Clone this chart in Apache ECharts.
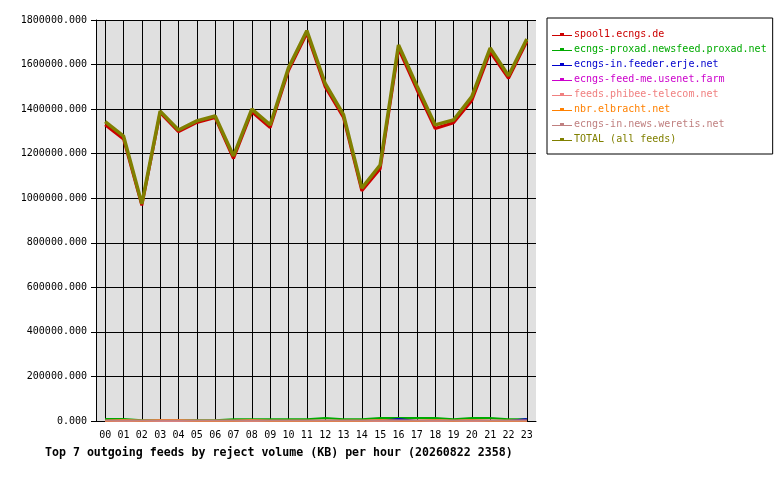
<!DOCTYPE html>
<html><head><meta charset="utf-8">
<script src="https://cdn.jsdelivr.net/npm/echarts@6/dist/echarts.min.js"></script>
<style>html,body{margin:0;padding:0;background:#fff}#c{width:780px;height:480px}</style>
</head><body><div id="c"></div>
<script>
const hours = ['00','01','02','03','04','05','06','07','08','09','10','11','12','13','14','15','16','17','18','19','20','21','22','23'];
const spool1 = [1330000,1266000,968000,1384000,1299000,1340000,1362000,1178000,1388000,1317000,1573000,1740000,1500000,1362000,1033000,1132000,1671000,1488000,1313000,1339000,1439000,1657000,1538000,1703000];
const proxad = [9000,9000,3000,3000,3000,3000,3000,8000,8000,8000,8000,8000,14000,8000,8000,14000,14000,14000,14000,8000,14000,14000,8000,8000];
const erje = [0,0,0,0,0,0,0,0,0,0,0,0,0,0,0,0,9000,0,0,0,0,0,0,9000];
const feedme = [0,0,0,0,0,0,0,0,0,0,0,0,0,0,0,0,0,0,0,0,0,0,0,0];
const phibee = [0,0,0,0,0,0,0,0,0,0,0,0,0,0,0,0,0,0,0,0,0,0,0,0];
const elbracht = [1000,5000,1000,5000,5000,1000,1000,1000,5000,1000,1000,1000,1000,1000,1000,5000,1000,1000,5000,1000,5000,1000,1000,1000];
const weretis = [2000,2000,2000,2000,2000,2000,2000,2000,2000,2000,2000,2000,2000,2000,2000,2000,2000,2000,2000,2000,2000,2000,2000,2000];
const total = [1344000,1279000,975000,1391000,1306000,1347000,1369000,1190000,1400000,1329000,1585000,1752000,1515000,1375000,1045000,1149000,1688000,1505000,1329000,1351000,1456000,1674000,1550000,1715000];
const yTicks = [0,200000,400000,600000,800000,1000000,1200000,1400000,1600000,1800000];

const names = ['spool1.ecngs.de','ecngs-proxad.newsfeed.proxad.net','ecngs-in.feeder.erje.net','ecngs-feed-me.usenet.farm','feeds.phibee-telecom.net','nbr.elbracht.net','ecngs-in.news.weretis.net','TOTAL (all feeds)'];
const colors = ['#cc0000','#00aa00','#0000cc','#cc00cc','#f08080','#ff8000','#c08080','#808000'];
const datas = [spool1,proxad,erje,feedme,phibee,elbracht,weretis,total];
const widths = [3,2,2,2,2,2,2,3.5];
const mono = 'DejaVu Sans Mono';
const icon = 'path://M0,5h20v1h-20z M8,3h4v3h-4z';

const chart = echarts.init(document.getElementById('c'), null, {renderer:'canvas'});
chart.setOption({
  animation:false,
  backgroundColor:'#ffffff',
  title:{text:'Top 7 outgoing feeds by reject volume (KB) per hour (20260822 2358)', left:45, top:447, padding:0,
    textStyle:{fontFamily:mono, fontSize:11.6, fontWeight:'bold', color:'#000'}},
  legend:{orient:'vertical', left:547, top:18, padding:[10,6,8,5], itemGap:2,
    borderColor:'#000', borderWidth:1, itemWidth:20, itemHeight:8,
    data: names.map((n,i)=>({name:n, icon:icon, textStyle:{color:colors[i]}})),
    textStyle:{fontFamily:mono, fontSize:10, lineHeight:13, padding:[0,0,0,-3]}},
  grid:{left:96, right:244, top:20, bottom:59, show:true, backgroundColor:'#e0e0e0', borderWidth:0},
  xAxis:{type:'category', data:hours, boundaryGap:true,
    axisLine:{lineStyle:{color:'#000', width:1}},
    axisTick:{alignWithLabel:true, length:4, lineStyle:{color:'#000'}},
    splitLine:{show:true, alignWithLabel:true, lineStyle:{color:'#000', width:1}},
    axisLabel:{fontFamily:mono, fontSize:10, color:'#000', margin:9, interval:0}},
  yAxis:{type:'value', min:0, max:1800000, interval:200000,
    axisLine:{show:true, lineStyle:{color:'#000', width:1}},
    axisTick:{show:true, length:5, lineStyle:{color:'#000'}},
    splitLine:{show:true, lineStyle:{color:'#000', width:1}},
    axisLabel:{fontFamily:mono, fontSize:10, color:'#000', margin:9,
      formatter:v=>v.toFixed(3)}},
  series: names.map((n,i)=>({name:n, type:'line', data:datas[i], showSymbol:false, symbol:'none',
    color:colors[i], lineStyle:{color:colors[i], width:widths[i]}, z:2+i}))
});
</script></body></html>
